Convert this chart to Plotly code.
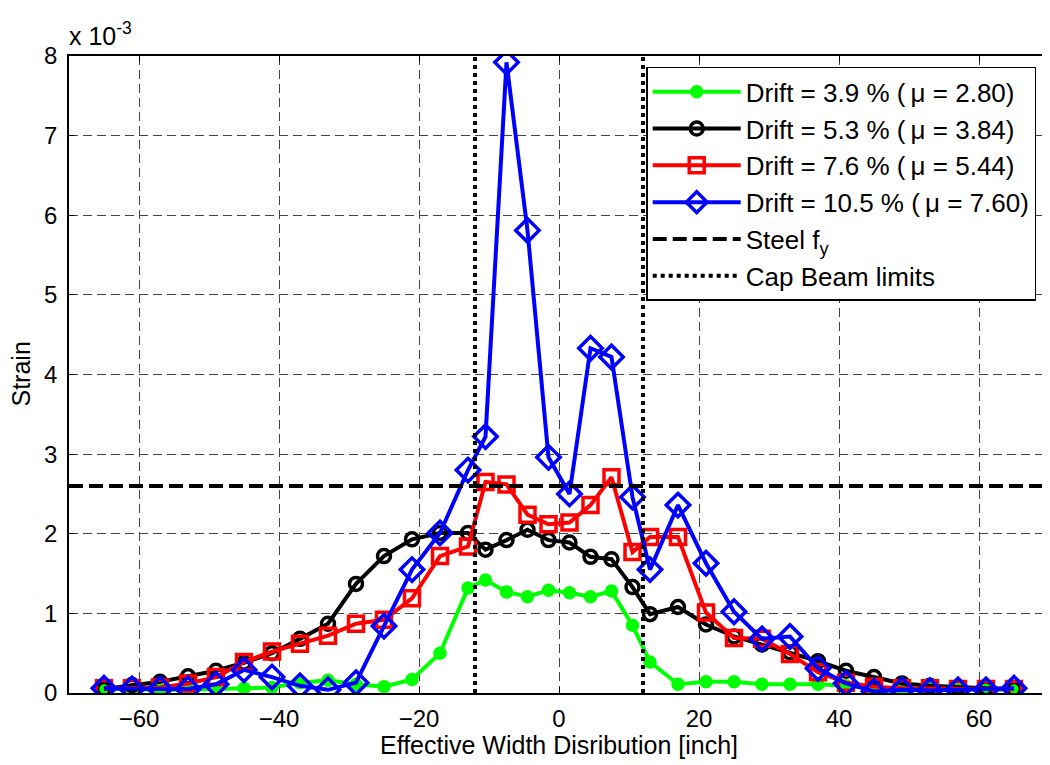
import plotly.graph_objects as go

# positions across the width [inch]
x_pos = [-65, -61, -57, -53, -49, -45, -41, -37, -33, -29, -25, -21, -17, -13,
         -10.5, -7.5, -4.5, -1.5, 1.5, 4.5, 7.5, 10.5,
         13, 17, 21, 25, 29, 33, 37, 41, 45, 49, 53, 57, 61, 65]

# strain values (x 10^-3)
drift_39 = [0.05, 0.04, 0.04, 0.04, 0.05, 0.06, 0.07, 0.13, 0.16, 0.11, 0.08, 0.17, 0.50, 1.32,
            1.42, 1.27, 1.21, 1.29, 1.26, 1.21, 1.28, 0.85,
            0.39, 0.11, 0.14, 0.14, 0.11, 0.11, 0.11, 0.09, 0.06, 0.05, 0.05, 0.04, 0.04, 0.04]
drift_53 = [0.05, 0.10, 0.14, 0.21, 0.28, 0.38, 0.50, 0.68, 0.87, 1.37, 1.72, 1.93, 2.01, 2.01,
            1.80, 1.92, 2.05, 1.92, 1.89, 1.71, 1.68, 1.33,
            0.99, 1.08, 0.86, 0.71, 0.61, 0.51, 0.40, 0.28, 0.20, 0.12, 0.09, 0.07, 0.06, 0.05]
drift_76 = [0.06, 0.06, 0.07, 0.12, 0.20, 0.39, 0.52, 0.62, 0.72, 0.87, 0.92, 1.19, 1.72, 1.84,
            2.65, 2.62, 2.24, 2.12, 2.14, 2.36, 2.71, 1.77,
            1.96, 1.96, 1.01, 0.69, 0.68, 0.49, 0.26, 0.13, 0.08, 0.06, 0.06, 0.05, 0.05, 0.05]
drift_105 = [0.06, 0.05, 0.05, 0.05, 0.11, 0.29, 0.20, 0.09, 0.04, 0.13, 0.84, 1.55, 2.01, 2.80,
             3.22, 7.92, 5.81, 2.96, 2.50, 4.33, 4.22, 2.46,
             1.55, 2.36, 1.63, 1.02, 0.68, 0.71, 0.31, 0.12, 0.02, 0.04, 0.03, 0.04, 0.04, 0.06]

steel_fy = 2.6
cap_beam = [-12, 12]
x_range = [-70, 70]
y_range = [0, 8]

font = "Liberation Sans, Arial, sans-serif"

fig = go.Figure()

series = [
    ("Drift = 3.9 % (\u2009\u03bc = 2.80)", drift_39, "#00FF00", "circle", 10),
    ("Drift = 5.3 % (\u2009\u03bc = 3.84)", drift_53, "#000000", "circle-open", 13),
    ("Drift = 7.6 % (\u2009\u03bc = 5.44)", drift_76, "#FF0000", "square-open", 15),
    ("Drift = 10.5 % (\u2009\u03bc = 7.60)", drift_105, "#0000FF", "diamond-open", 18),
]
for i, (name, vals, col, sym, sz) in enumerate(series):
    fig.add_trace(go.Scatter(
        x=x_pos, y=vals, name=name, mode="lines+markers", legendgroup=str(i),
        line=dict(color=col, width=4),
        marker=dict(symbol=sym, size=sz, color=col, line=dict(color=col, width=3.5)),
    ))

fig.add_trace(go.Scatter(
    x=x_range, y=[steel_fy, steel_fy], name="Steel f<sub>y</sub>", mode="lines",
    legendgroup="fy", line=dict(color="black", width=4, dash="14px,6px"),
))
fig.add_trace(go.Scatter(
    x=[cap_beam[0], cap_beam[0], None, cap_beam[1], cap_beam[1]],
    y=[y_range[0], y_range[1], None, y_range[0], y_range[1]], name="Cap Beam limits", mode="lines",
    legendgroup="cap", line=dict(color="black", width=4, dash="4px,4px"),
))

axis_common = dict(
    showline=True, linecolor="black", linewidth=1.5, mirror="ticks",
    ticks="inside", ticklen=6, tickcolor="black", automargin=False,
    showgrid=True, gridcolor="#444444", gridwidth=1, griddash="9px,5px",
    zeroline=False, tickfont=dict(size=24, color="black", family=font),
)

fig.update_xaxes(range=x_range, dtick=20, tick0=-60, ticklabelstandoff=3, **axis_common)
fig.update_yaxes(range=y_range, dtick=1, ticklabelstandoff=5, **axis_common)

fig.add_annotation(x=0.5, y=-0.082, xref="paper", yref="paper", xanchor="center", yanchor="middle",
                   text="Effective Width Disribution [inch]", showarrow=False,
                   font=dict(size=25, color="black", family=font))
fig.add_annotation(x=-0.05, y=0.5, xref="paper", yref="paper", xanchor="center", yanchor="middle",
                   text="Strain", showarrow=False, textangle=-90,
                   font=dict(size=25, color="black", family=font))
fig.add_annotation(x=0, y=1, xref="paper", yref="paper", xanchor="left", yanchor="bottom",
                   text="x 10<sup>-3</sup>", showarrow=False, yshift=4, xshift=-2,
                   font=dict(size=25, color="black", family=font))

# page body adds an 8px offset, so the figure is trimmed to keep the plot box in place
fig.update_layout(
    width=1042, height=757,
    margin=dict(l=61, r=1, t=48, b=72),
    plot_bgcolor="white", paper_bgcolor="white",
    font=dict(family=font, size=24, color="black"),
    legend=dict(x=0.589, y=0.983, xanchor="left", yanchor="top",
                bgcolor="white", bordercolor="black", borderwidth=1.5,
                traceorder="grouped", tracegroupgap=0, itemwidth=88,
                font=dict(size=26, color="black", family=font)),
)

fig.write_html("out.html")
